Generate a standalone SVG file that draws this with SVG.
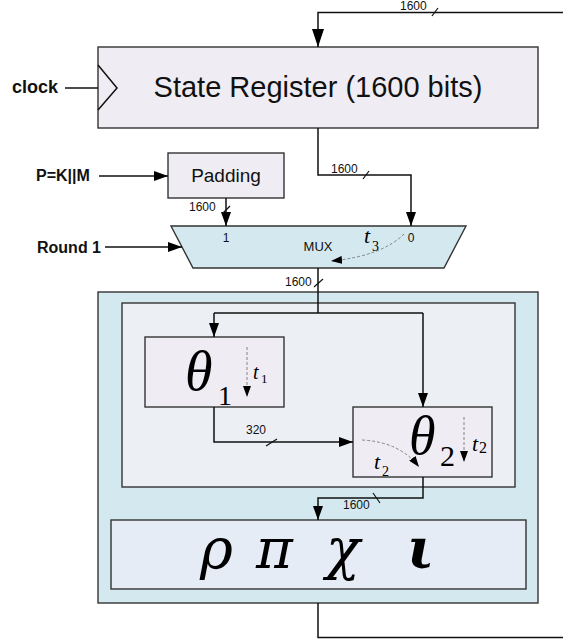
<svg xmlns="http://www.w3.org/2000/svg" width="563" height="642" viewBox="0 0 563 642">
<style>
.box{stroke:#333;stroke-width:1.4}
.w{fill:none;stroke:#111;stroke-width:1.5}
.sl{stroke:#111;stroke-width:1.2}
.d{fill:none;stroke:#777;stroke-width:0.9;stroke-dasharray:3,2}
.lab{font-family:"Liberation Sans",Arial,sans-serif;fill:#111}
.b{font-family:"Liberation Sans",Arial,sans-serif;font-weight:bold;fill:#111}
.n{font-family:"Liberation Sans",Arial,sans-serif;fill:#111}
.m{font-family:"Liberation Serif","Times New Roman",serif;fill:#000}
.g{font-family:"DejaVu Serif",serif;font-style:italic;fill:#000}
.i{font-style:italic}
</style>
<defs>
<marker id="ah" viewBox="0 0 14 10" refX="14" refY="5" markerWidth="14" markerHeight="10" markerUnits="userSpaceOnUse" orient="auto"><path d="M0,0 L14,5 L0,10 z" fill="#000"/></marker>
<marker id="ahb" viewBox="0 0 18 12" refX="18" refY="6" markerWidth="18" markerHeight="12" markerUnits="userSpaceOnUse" orient="auto"><path d="M0,0 L18,6 L0,12 z" fill="#000"/></marker>
<marker id="ahs" viewBox="0 0 11 8" refX="11" refY="4" markerWidth="11" markerHeight="8" markerUnits="userSpaceOnUse" orient="auto"><path d="M0,0 L11,4 L0,8 z" fill="#000"/></marker>
</defs>

<g id="outer"><rect class="box" x="98" y="292" width="440" height="311" fill="#d4e9ef"/></g>
<g id="inner"><rect class="box" x="122" y="303" width="393" height="184" fill="#ecf0f5"/></g>

<g id="register">
<rect class="box" x="98" y="47" width="440" height="81" fill="#efedf3"/>
<path class="w" d="M98,65 L117,88 L98,110"/>
<text class="lab" x="318" y="97" font-size="29" text-anchor="middle">State Register (1600 bits)</text>
</g>

<g id="clock"><text class="b" x="12" y="93" font-size="18">clock</text></g>
<g id="pkm"><text class="b" x="36" y="181" font-size="16">P=K||M</text></g>
<g id="round1"><text class="b" x="37" y="253" font-size="16">Round 1</text></g>

<g id="padding">
<rect class="box" x="168" y="153" width="116" height="45" fill="#efedf3"/>
<text class="lab" x="226" y="182" font-size="19" text-anchor="middle">Padding</text>
</g>

<g id="mux">
<path class="box" d="M171,226 L466,226 L444,268 L193,268 Z" fill="#d4e9ef"/>
<text class="n" x="226" y="242" font-size="12" text-anchor="middle">1</text>
<text class="n" x="411" y="242" font-size="12" text-anchor="middle">0</text>
<text class="n" x="318" y="251" font-size="13" text-anchor="middle">MUX</text>
<text class="m i" x="364" y="243" font-size="22">t</text>
<text class="m" x="372" y="251" font-size="14">3</text>
<path class="d" d="M404,234 Q382,256 331,261" marker-end="url(#ahs)"/>
</g>

<g id="theta1">
<rect class="box" x="145" y="337" width="139" height="70" fill="#efedf3"/>
<text class="m i" x="185" y="390" font-size="56">θ</text>
<text class="m" x="218" y="405" font-size="28">1</text>
<path class="d" d="M247,347 V397" marker-end="url(#ahs)"/>
<text class="m i" x="253" y="379" font-size="20">t</text>
<text class="m" x="261" y="383" font-size="13">1</text>
</g>

<g id="theta2">
<rect class="box" x="353" y="407" width="139" height="70" fill="#efedf3"/>
<text class="m i" x="409" y="454" font-size="54">θ</text>
<text class="m" x="440" y="466" font-size="30">2</text>
<path class="d" d="M464,417 V462" marker-end="url(#ahs)"/>
<text class="m i" x="472" y="451" font-size="22">t</text>
<text class="m" x="479" y="453" font-size="16">2</text>
<path class="d" d="M362,440 Q400,442 419,467" marker-end="url(#ahs)"/>
<text class="m i" x="374" y="469" font-size="22">t</text>
<text class="m" x="382" y="476" font-size="14">2</text>
</g>

<g id="rhopichiiota">
<rect class="box" x="111" y="520" width="415" height="69" fill="#e5ecf6"/>
<text class="g" x="200" y="568" font-size="56">ρ</text>
<text class="g" x="256" y="568" font-size="56">π</text>
<text class="g" x="326" y="568" font-size="56">χ</text>
<text class="g" x="407" y="568" font-size="56" font-weight="bold">ι</text>
</g>

<g id="connectors">
<path class="w" d="M563,12.5 H318 V47" marker-end="url(#ahb)"/>
<path class="w" d="M65,88 H98"/>
<path class="w" d="M318,128 V175 H411 V226" marker-end="url(#ah)"/>
<path class="w" d="M99,176 H168" marker-end="url(#ah)"/>
<path class="w" d="M226,198 V226" marker-end="url(#ah)"/>
<path class="w" d="M105,247 H182" marker-end="url(#ah)"/>
<path class="w" d="M318,268 V313"/>
<path class="w" d="M214,313 H423"/>
<path class="w" d="M214,313 V337" marker-end="url(#ah)"/>
<path class="w" d="M423,313 V407" marker-end="url(#ah)"/>
<path class="w" d="M214,407 V442 H353" marker-end="url(#ah)"/>
<path class="w" d="M423,477 V498 H318 V520" marker-end="url(#ah)"/>
<path class="w" d="M318,603 V637.5 H563"/>
<line class="sl" x1="432" y1="16" x2="438" y2="8"/>
<line class="sl" x1="363" y1="179" x2="369" y2="171"/>
<line class="sl" x1="222" y1="214" x2="230" y2="206"/>
<line class="sl" x1="314" y1="287" x2="323" y2="279"/>
<line class="sl" x1="266" y1="446" x2="277" y2="439"/>
<line class="sl" x1="373" y1="493" x2="380" y2="503"/>
<text class="n" x="400" y="9.5" font-size="12">1600</text>
<text class="n" x="331" y="173" font-size="12">1600</text>
<text class="n" x="189" y="211" font-size="12">1600</text>
<text class="n" x="285" y="286" font-size="12">1600</text>
<text class="n" x="246" y="434" font-size="12">320</text>
<text class="n" x="343" y="509" font-size="12">1600</text>
</g>
</svg>
